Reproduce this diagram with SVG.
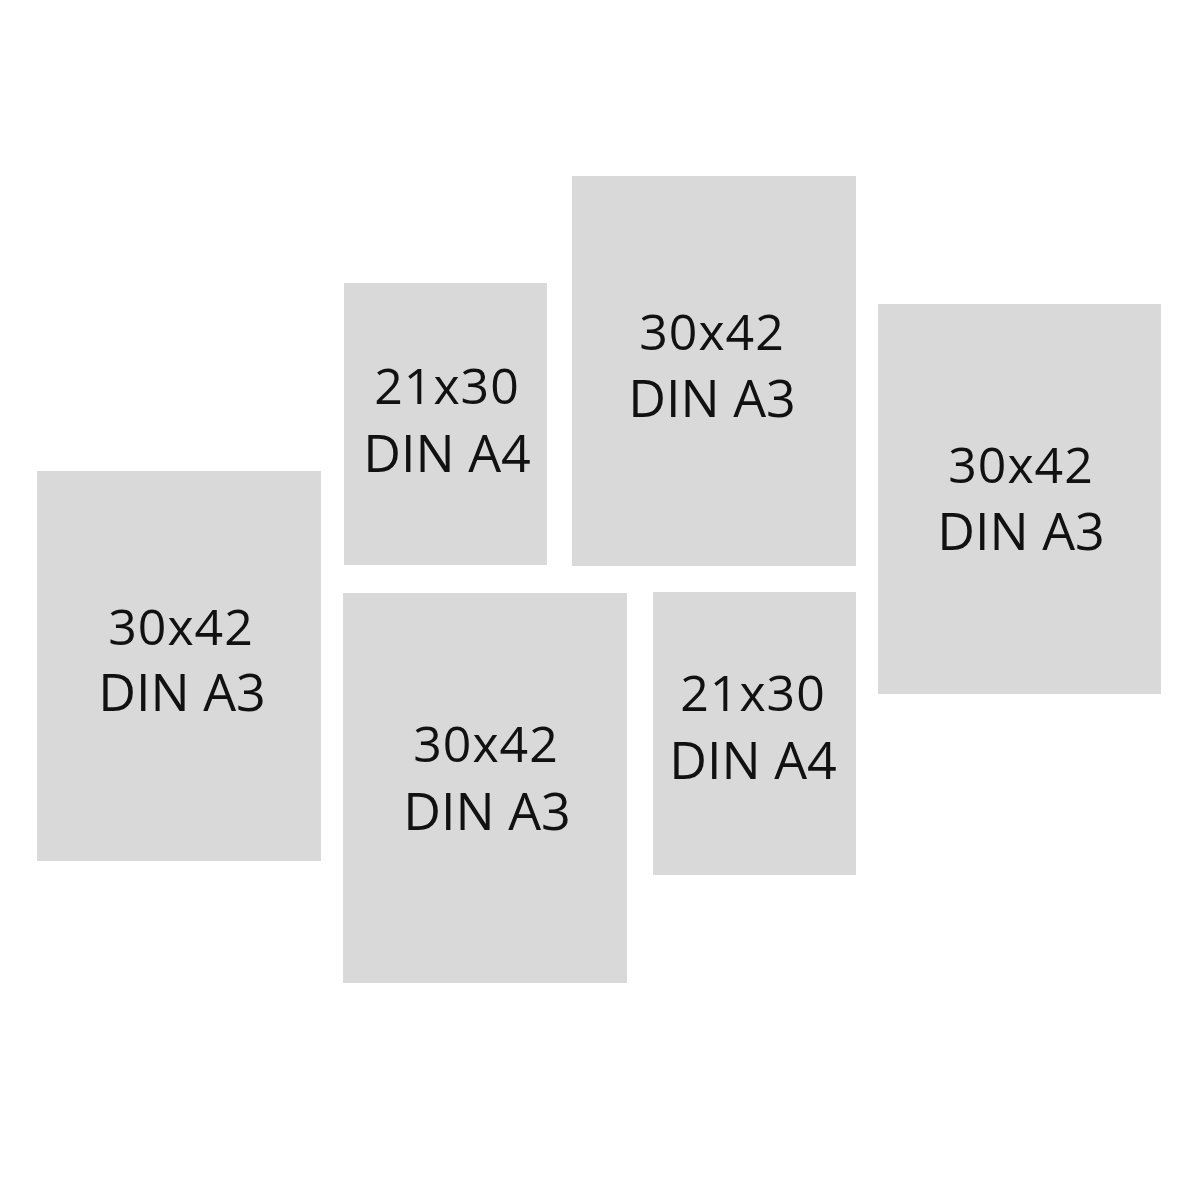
<svg xmlns="http://www.w3.org/2000/svg" width="1200" height="1200" viewBox="0 0 1200 1200">
<style>
rect.p{fill:#d9d9d9}
text{font-family:"Open Sans","Noto Sans",sans-serif;font-size:52px;fill:#111;text-anchor:middle}
text.n{font-size:50px;letter-spacing:1px}
</style>
<rect width="1200" height="1200" fill="#fff"/>
<g id="n1"><rect class="p" x="37" y="471" width="284" height="390"/><text class="n" x="181" y="645">30x42</text><text x="182" y="711">DIN A3</text></g>
<g id="n2"><rect class="p" x="344" y="283" width="203" height="282"/><text class="n" x="447" y="404">21x30</text><text x="447" y="472">DIN A4</text></g>
<g id="n3"><rect class="p" x="572" y="176" width="284" height="390"/><text class="n" x="712" y="350">30x42</text><text x="712" y="417">DIN A3</text></g>
<g id="n4"><rect class="p" x="878" y="304" width="283" height="390"/><text class="n" x="1021" y="483">30x42</text><text x="1021" y="550">DIN A3</text></g>
<g id="n5"><rect class="p" x="343" y="593" width="284" height="390"/><text class="n" x="486" y="762">30x42</text><text x="487" y="830">DIN A3</text></g>
<g id="n6"><rect class="p" x="653" y="592" width="203" height="283"/><text class="n" x="753" y="711">21x30</text><text x="753" y="779">DIN A4</text></g>
<g id="connectors"></g>
</svg>
